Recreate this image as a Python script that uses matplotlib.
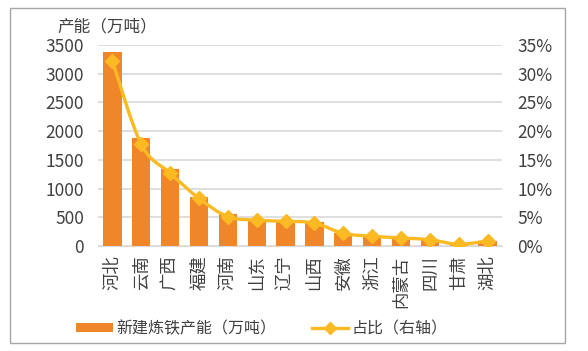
import matplotlib
matplotlib.use("Agg")
import matplotlib.pyplot as plt
from matplotlib.path import Path
from matplotlib.patches import PathPatch, Rectangle
from matplotlib.lines import Line2D
from matplotlib.patches import Patch
import numpy as np

plt.rcParams['font.family'] = ['Noto Sans CJK SC', 'DejaVu Sans']

provinces = ["河北", "云南", "广西", "福建", "河南", "山东", "辽宁", "山西",
             "安徽", "浙江", "内蒙古", "四川", "甘肃", "湖北"]
capacity = [3380, 1880, 1340, 860, 560, 470, 440, 420, 230, 170, 140, 110, 25, 95]
share = [32.2, 17.7, 12.7, 8.3, 5.1, 4.5, 4.3, 4.0, 2.2, 1.7, 1.4, 1.1, 0.3, 0.9]
left_ticks = [0, 500, 1000, 1500, 2000, 2500, 3000, 3500]
right_ticks = [0, 5, 10, 15, 20, 25, 30, 35]

bar_color = '#F0862A'
line_color = '#FBBA23'
grid_color = '#D9D9D9'
text_color = '#404040'

W, H = 588, 351
fig = plt.figure(figsize=(W / 100, H / 100), dpi=100)
fig.patch.set_facecolor('white')

# outer border
fig.add_artist(Rectangle((10 / W, 1 - 343 / H), 555 / W, 335 / H,
                         transform=fig.transFigure, fill=False,
                         edgecolor='#A6A6A6', lw=1.0))

ax = fig.add_axes([98 / W, 1 - 246 / H, 404 / W, 201 / H])
x = np.arange(len(provinces))
ax.bar(x, capacity, width=0.63, color=bar_color, zorder=2)
ax.set_xlim(-0.5, len(provinces) - 0.5)
ax.set_ylim(0, 3500)
ax.set_yticks(left_ticks)
ax.set_yticklabels([str(v) for v in left_ticks], fontsize=12.5, color=text_color)
ax.set_xticks(x)
ax.set_xticklabels(provinces, rotation=90, fontsize=12.5, color=text_color)
ax.tick_params(axis='y', length=0, pad=10)
ax.tick_params(axis='x', length=0, pad=7)
for s in ['top', 'right', 'left']:
    ax.spines[s].set_visible(False)
ax.spines['bottom'].set_color(grid_color)
ax.yaxis.grid(True, color=grid_color, lw=1.2, zorder=0)
ax.set_axisbelow(True)

ax2 = ax.twinx()
ax2.set_ylim(0, 35)
ax2.set_yticks(right_ticks)
ax2.set_yticklabels([f"{v}%" for v in right_ticks], fontsize=12.5, color=text_color)
ax2.tick_params(axis='y', length=0, pad=11)
for s in ax2.spines.values():
    s.set_visible(False)

# smooth line through the data points (Catmull-Rom -> cubic Bezier)
px = x.astype(float)
py = np.array(share, dtype=float)
verts = [(px[0], py[0])]
codes = [Path.MOVETO]
n = len(px)
for i in range(n - 1):
    p0 = np.array([px[max(i - 1, 0)], py[max(i - 1, 0)]])
    p1 = np.array([px[i], py[i]])
    p2 = np.array([px[i + 1], py[i + 1]])
    p3 = np.array([px[min(i + 2, n - 1)], py[min(i + 2, n - 1)]])
    c1 = p1 + (p2 - p0) / 6.0
    c2 = p2 - (p3 - p1) / 6.0
    verts += [tuple(c1), tuple(c2), tuple(p2)]
    codes += [Path.CURVE4] * 3
ax2.add_patch(PathPatch(Path(verts, codes), fill=False, edgecolor=line_color,
                        lw=2.4, zorder=3))
ax2.plot(px, py, linestyle='none', marker='D', markersize=7,
         color=line_color, zorder=4)

fig.text(57 / W, 1 - 27 / H, "产能（万吨）", fontsize=12, color=text_color,
         ha='left', va='center')

handles = [Patch(facecolor=bar_color, edgecolor='none'),
           Line2D([0], [0], color=line_color, lw=2.4, marker='D', markersize=6)]
fig.legend(handles, ["新建炼铁产能（万吨）", "占比（右轴）"],
           loc='center', bbox_to_anchor=(262 / W, 1 - 329 / H), ncol=2,
           frameon=False, fontsize=11.5, handlelength=2.3, handleheight=0.5,
           columnspacing=2.2, handletextpad=0.2, labelcolor=text_color)

fig.savefig("out.png", dpi=100)
